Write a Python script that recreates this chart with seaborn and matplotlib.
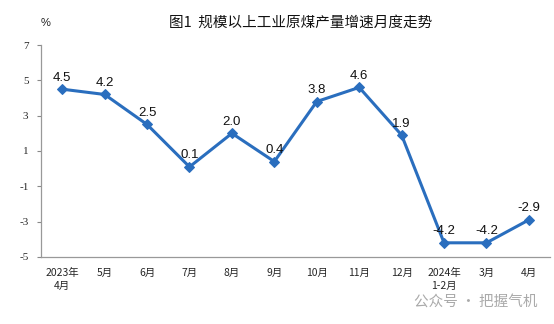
import matplotlib
matplotlib.use("Agg")
import matplotlib.pyplot as plt
import seaborn as sns
import pandas as pd
import numpy as np

months = ["2023年\n4月", "5月", "6月", "7月", "8月", "9月", "10月", "11月", "12月",
          "2024年\n1-2月", "3月", "4月"]
growth = [4.5, 4.2, 2.5, 0.1, 2.0, 0.4, 3.8, 4.6, 1.9, -4.2, -4.2, -2.9]
yticks = [7, 5, 3, 1, -1, -3, -5]

sns.set_theme(style="white")
plt.rcParams["font.family"] = ["Noto Sans CJK SC", "DejaVu Sans"]

df = pd.DataFrame({"pos": np.arange(len(months)), "growth": growth})

fig = plt.figure(figsize=(5.54, 3.24), dpi=100)
ax = fig.add_axes([0.074, 0.207, 0.919, 0.654])
line_color = "#2a6ebe"
sns.lineplot(data=df, x="pos", y="growth", ax=ax, color=line_color, lw=2.2,
             marker="D", markersize=5, markeredgecolor=line_color)

for x, y in zip(df["pos"], df["growth"]):
    ax.annotate(f"{y:.1f}", (x, y), xytext=(0, 4), textcoords="offset points",
                ha="center", va="bottom", fontsize=9.5,
                family=["Liberation Sans", "DejaVu Sans"], color="#111111")

ax.set_xlim(-0.5, len(months) - 0.5)
ax.set_ylim(-5, 7)
ax.set_yticks(yticks)
ax.set_yticklabels([str(t) for t in yticks], family=["Liberation Serif"], fontsize=8)
ax.set_xticks(np.arange(len(months)))
ax.set_xticklabels(months, fontsize=7.5, linespacing=1.3)
ax.set_xticks(np.arange(len(months) + 1) - 0.5, minor=True)
ax.tick_params(axis="x", which="major", length=0, pad=8)
ax.tick_params(axis="x", which="minor", length=3, direction="in", color="#999999", width=0.8)
ax.tick_params(axis="y", length=3, direction="out", color="#888888", width=0.8, pad=6, left=True)
ax.set_xlabel("")
ax.set_ylabel("")

for side in ["top", "right"]:
    ax.spines[side].set_visible(False)
for side in ["left", "bottom"]:
    ax.spines[side].set_color("#999999")
    ax.spines[side].set_linewidth(0.9)

fig.text(0.542, 0.93, "图1  规模以上工业原煤产量增速月度走势", ha="center", va="center",
         fontsize=10.5, color="#111111", fontweight="medium")
fig.text(0.082, 0.93, "%", ha="center", va="center", fontsize=8, color="#222222",
         family=["Liberation Sans"])
fig.text(0.97, 0.07, "公众号 · 把握气机", ha="right", va="center", fontsize=10.5,
         color="#aaaaaa")

fig.savefig("out.png", dpi=100, facecolor="white")
